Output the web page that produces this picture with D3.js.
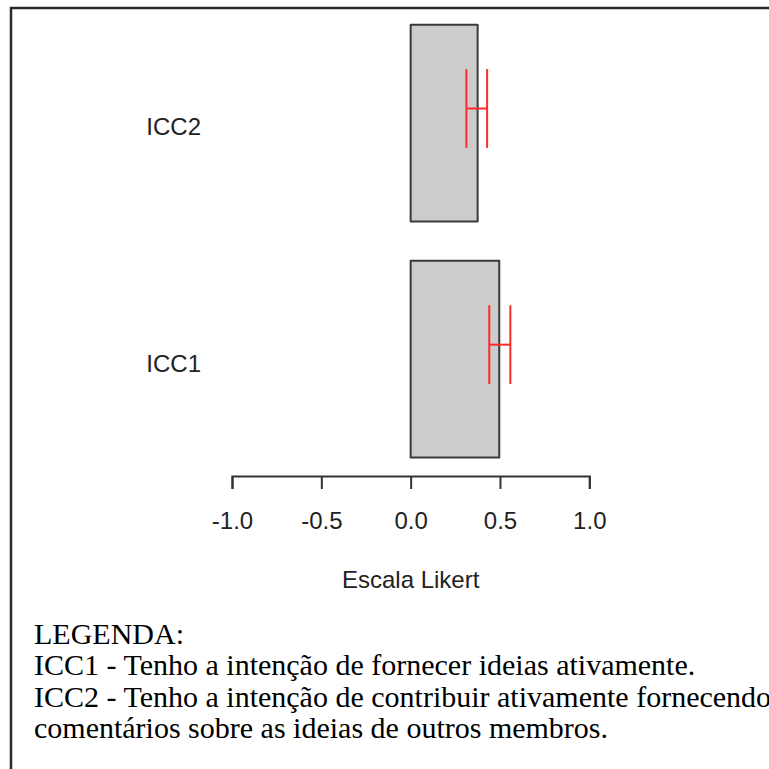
<!DOCTYPE html>
<html>
<head>
<meta charset="utf-8">
<script src="https://cdn.jsdelivr.net/npm/d3@7"></script>
<style>
  body { margin: 0; background: #fff; }
  svg { display: block; }
</style>
</head>
<body>
<div id="chart"></div>
<script>
// data
const categories = ["ICC2", "ICC1"];
const means = [0.375, 0.496];
const lowers = [0.312, 0.44];
const uppers = [0.428, 0.558];
const tickValues = [-1, -0.5, 0, 0.5, 1];
const axisTitle = "Escala Likert";
const legendLines = [
    "LEGENDA:",
    "ICC1 - Tenho a intenção de fornecer ideias ativamente.",
    "ICC2 - Tenho a intenção de contribuir ativamente fornecendo",
    "comentários sobre as ideias de outros membros."
];

const rows = categories.map((c, i) => ({cat: c, mean: means[i], lo: lowers[i], hi: uppers[i]}));

const W = 769, H = 769;
const svg = d3.select("#chart").append("svg")
    .attr("width", W)
    .attr("height", H);

svg.append("rect").attr("width", W).attr("height", H).attr("fill", "#fff");

// frame around the figure (runs off right/bottom)
svg.append("rect")
    .attr("x", 11).attr("y", 8)
    .attr("width", W + 20).attr("height", H + 20)
    .attr("fill", "none")
    .attr("stroke", "#2b2b2b")
    .attr("stroke-width", 2.5);

// scales
const x = d3.scaleLinear().domain([-1, 1]).range([232, 589.3]);
const p = 0.2 / 1.2;
const y = d3.scaleBand().domain(categories).range([5, 477.3])
    .paddingInner(p).paddingOuter(p / 2);

const sans = "'Liberation Sans', Arial, sans-serif";

// bars
svg.selectAll(".bar")
    .data(rows)
    .enter().append("rect")
    .attr("class", "bar")
    .attr("x", d => x(Math.min(0, d.mean)))
    .attr("y", d => y(d.cat))
    .attr("width", d => Math.abs(x(d.mean) - x(0)))
    .attr("height", y.bandwidth())
    .attr("fill", "#cccccc")
    .attr("stroke", "#3a3a3a")
    .attr("stroke-width", 2)
    .attr("stroke-linejoin", "round");

// error bars (sit a bit above the bar middle, as in the original)
const err = svg.selectAll(".err")
    .data(rows)
    .enter().append("g")
    .attr("class", "err")
    .attr("stroke", "#ff2a2a")
    .attr("stroke-width", 2);

const ec = d => y(d.cat) + y.bandwidth() * 0.426;
const eh = y.bandwidth() * 0.2;

err.append("line")
    .attr("x1", d => x(d.lo)).attr("x2", d => x(d.hi))
    .attr("y1", ec).attr("y2", ec);
err.append("line")
    .attr("x1", d => x(d.lo)).attr("x2", d => x(d.lo))
    .attr("y1", d => ec(d) - eh).attr("y2", d => ec(d) + eh);
err.append("line")
    .attr("x1", d => x(d.hi)).attr("x2", d => x(d.hi))
    .attr("y1", d => ec(d) - eh).attr("y2", d => ec(d) + eh);

// category labels
svg.selectAll(".cat-label")
    .data(rows)
    .enter().append("text")
    .attr("class", "cat-label")
    .attr("x", 201)
    .attr("y", d => y(d.cat) + y.bandwidth() / 2 + 4)
    .attr("dy", "0.35em")
    .attr("text-anchor", "end")
    .attr("font-family", sans)
    .attr("font-size", 24)
    .attr("fill", "#222")
    .text(d => d.cat);

// x axis
const xAxis = d3.axisBottom(x)
    .tickValues(tickValues)
    .tickFormat(d3.format(".1f"))
    .tickSize(13)
    .tickSizeOuter(13)
    .tickPadding(23);

const gx = svg.append("g")
    .attr("class", "x-axis")
    .attr("transform", "translate(0,476)")
    .call(xAxis);

gx.select(".domain").attr("stroke", "#333").attr("stroke-width", 2);
gx.selectAll(".tick line").attr("stroke", "#333").attr("stroke-width", 2);
gx.selectAll(".tick text")
    .attr("font-family", sans)
    .attr("font-size", 24)
    .attr("fill", "#222")
    .text(d => d < 0 ? "-" + d3.format(".1f")(-d) : d3.format(".1f")(d));

svg.append("text")
    .attr("x", x(0))
    .attr("y", 588)
    .attr("text-anchor", "middle")
    .attr("font-family", sans)
    .attr("font-size", 24)
    .attr("fill", "#222")
    .text(axisTitle);

// legend text
svg.selectAll(".legend-line")
    .data(legendLines)
    .enter().append("text")
    .attr("class", "legend-line")
    .attr("x", 34)
    .attr("y", (d, i) => 643.5 + i * 31.5)
    .attr("font-family", "'Liberation Serif', 'Times New Roman', serif")
    .attr("font-size", 30)
    .attr("fill", "#000")
    .text(d => d);
</script>
</body>
</html>
